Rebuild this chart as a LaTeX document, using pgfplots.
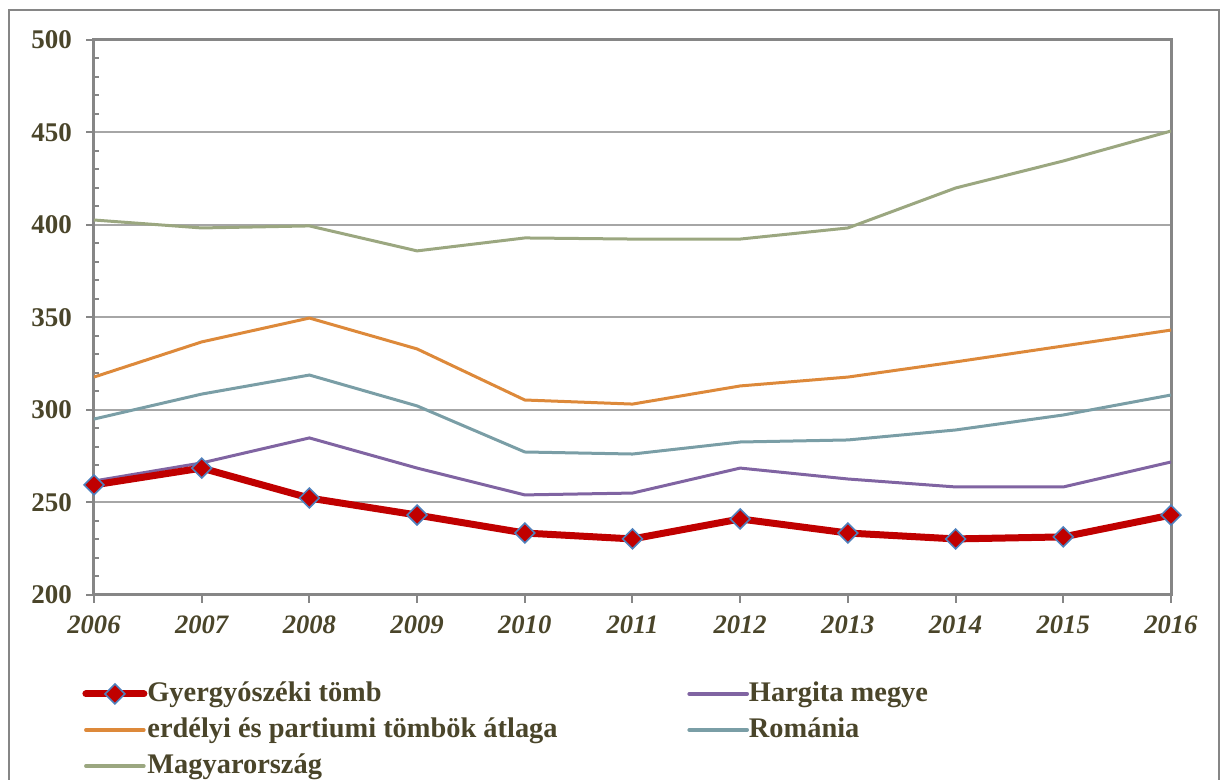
\documentclass[border=0pt]{standalone}
\usepackage{pgfplots}
\pgfplotsset{compat=1.18}
\usepackage{fontspec}
\setmainfont{Liberation Serif}
\definecolor{txt}{RGB}{74,69,42}
\definecolor{cRed}{RGB}{192,0,0}
\definecolor{cPurple}{RGB}{128,100,162}
\definecolor{cOrange}{RGB}{221,137,58}
\definecolor{cTeal}{RGB}{122,158,166}
\definecolor{cGreen}{RGB}{155,167,128}
\definecolor{cBlue}{RGB}{79,129,189}
\definecolor{axgray}{RGB}{134,134,134}
\definecolor{gridgray}{RGB}{166,166,166}
\begin{document}
\begin{tikzpicture}
\useasboundingbox (-47pt,-92.5pt) rectangle (564.5pt,297.5pt);
\begin{axis}[
  at={(0pt,0pt)}, anchor=south west,
  scale only axis, width=538.5pt, height=277.5pt,
  xmin=2006, xmax=2016, ymin=200, ymax=500,
  xtick={2006,...,2016},
  xticklabels={2006,2007,2008,2009,2010,2011,2012,2013,2014,2015,2016},
  ytick={200,250,...,500},
  minor y tick num=4,
  tick pos=left,
  tick align=outside,
  major tick length=4pt,
  minor tick length=2.5pt,
  every minor tick/.append style={xshift=2.5pt},
  /pgf/number format/assume math mode=true,
  ticklabel style={font=\fontsize{13.5}{15}\selectfont\bfseries, text=txt},
  xticklabel style={font=\fontsize{13.3}{15}\selectfont\bfseries\itshape, yshift=-3pt},
  yticklabel style={xshift=-3.5pt},
  axis line style={axgray, line width=1.5pt},
  tick style={axgray, line width=1pt},
  ymajorgrids,
  major grid style={gridgray, line width=1pt},
  legend columns=2,
  legend cell align=left,
  legend style={at={(axis description cs:0,0)}, anchor=north west,
    xshift=-6pt, yshift=-42.5pt, draw=none, fill=none, inner sep=0pt,
    row sep=4.5pt,
    nodes={inner sep=0pt, text height=10.5pt, text depth=3pt,
      font=\fontsize{14.2}{16}\selectfont\bfseries, text=txt},
    /tikz/every odd column/.append style={column sep=0pt}},
  legend image code/.code={\draw[mark repeat=2,mark phase=2,#1] plot coordinates {(0pt,0pt) (14.5pt,0pt) (29pt,0pt)};},
]
\addlegendimage{cRed, line width=3.5pt, line cap=round, mark=square*, mark size=3.5pt, mark options={fill=cRed, draw=cBlue, line width=0.8pt, rotate=45, line cap=butt}}
\addlegendentry{\makebox[270pt][l]{Gyergyószéki tömb}}
\addlegendimage{cPurple, line width=1.8pt, line cap=round}
\addlegendentry{Hargita megye}
\addlegendimage{cOrange, line width=1.8pt, line cap=round}
\addlegendentry{\makebox[270pt][l]{erdélyi és partiumi tömbök átlaga}}
\addlegendimage{cTeal, line width=1.8pt, line cap=round}
\addlegendentry{Románia}
\addlegendimage{cGreen, line width=1.8pt, line cap=round}
\addlegendentry{Magyarország}

\addplot[cGreen, line width=1.5pt, forget plot] coordinates {
(2006,402.7) (2007,398.4) (2008,399.5) (2009,386.0) (2010,393.0) (2011,392.4)
(2012,392.4) (2013,398.4) (2014,420.0) (2015,434.6) (2016,450.8)};
\addplot[cOrange, line width=1.5pt, forget plot] coordinates {
(2006,317.8) (2007,336.8) (2008,349.7) (2009,333.0) (2010,305.4) (2011,303.2)
(2012,313.0) (2013,317.8) (2014,326.0) (2015,334.6) (2016,343.2)};
\addplot[cTeal, line width=1.5pt, forget plot] coordinates {
(2006,295.1) (2007,308.6) (2008,318.9) (2009,302.2) (2010,277.3) (2011,276.2)
(2012,282.7) (2013,283.8) (2014,289.2) (2015,297.3) (2016,308.1)};
\addplot[cPurple, line width=1.5pt, forget plot] coordinates {
(2006,261.6) (2007,271.4) (2008,284.9) (2009,268.6) (2010,254.1) (2011,255.1)
(2012,268.6) (2013,262.7) (2014,258.4) (2015,258.4) (2016,271.9)};
\addplot[cRed, line width=3.5pt, forget plot, mark=square*, mark size=3.5pt,
  mark options={fill=cRed, draw=cBlue, line width=0.8pt, rotate=45}] coordinates {
(2006,259.5) (2007,268.6) (2008,252.4) (2009,243.2) (2010,233.5) (2011,230.3)
(2012,241.1) (2013,233.5) (2014,230.3) (2015,231.4) (2016,243.2)};
\end{axis}
\draw[axgray, line width=1pt] (-42.5pt,-100pt) -- (-42.5pt,292.5pt) -- (562.5pt,292.5pt) -- (562.5pt,-100pt);
\end{tikzpicture}
\end{document}
